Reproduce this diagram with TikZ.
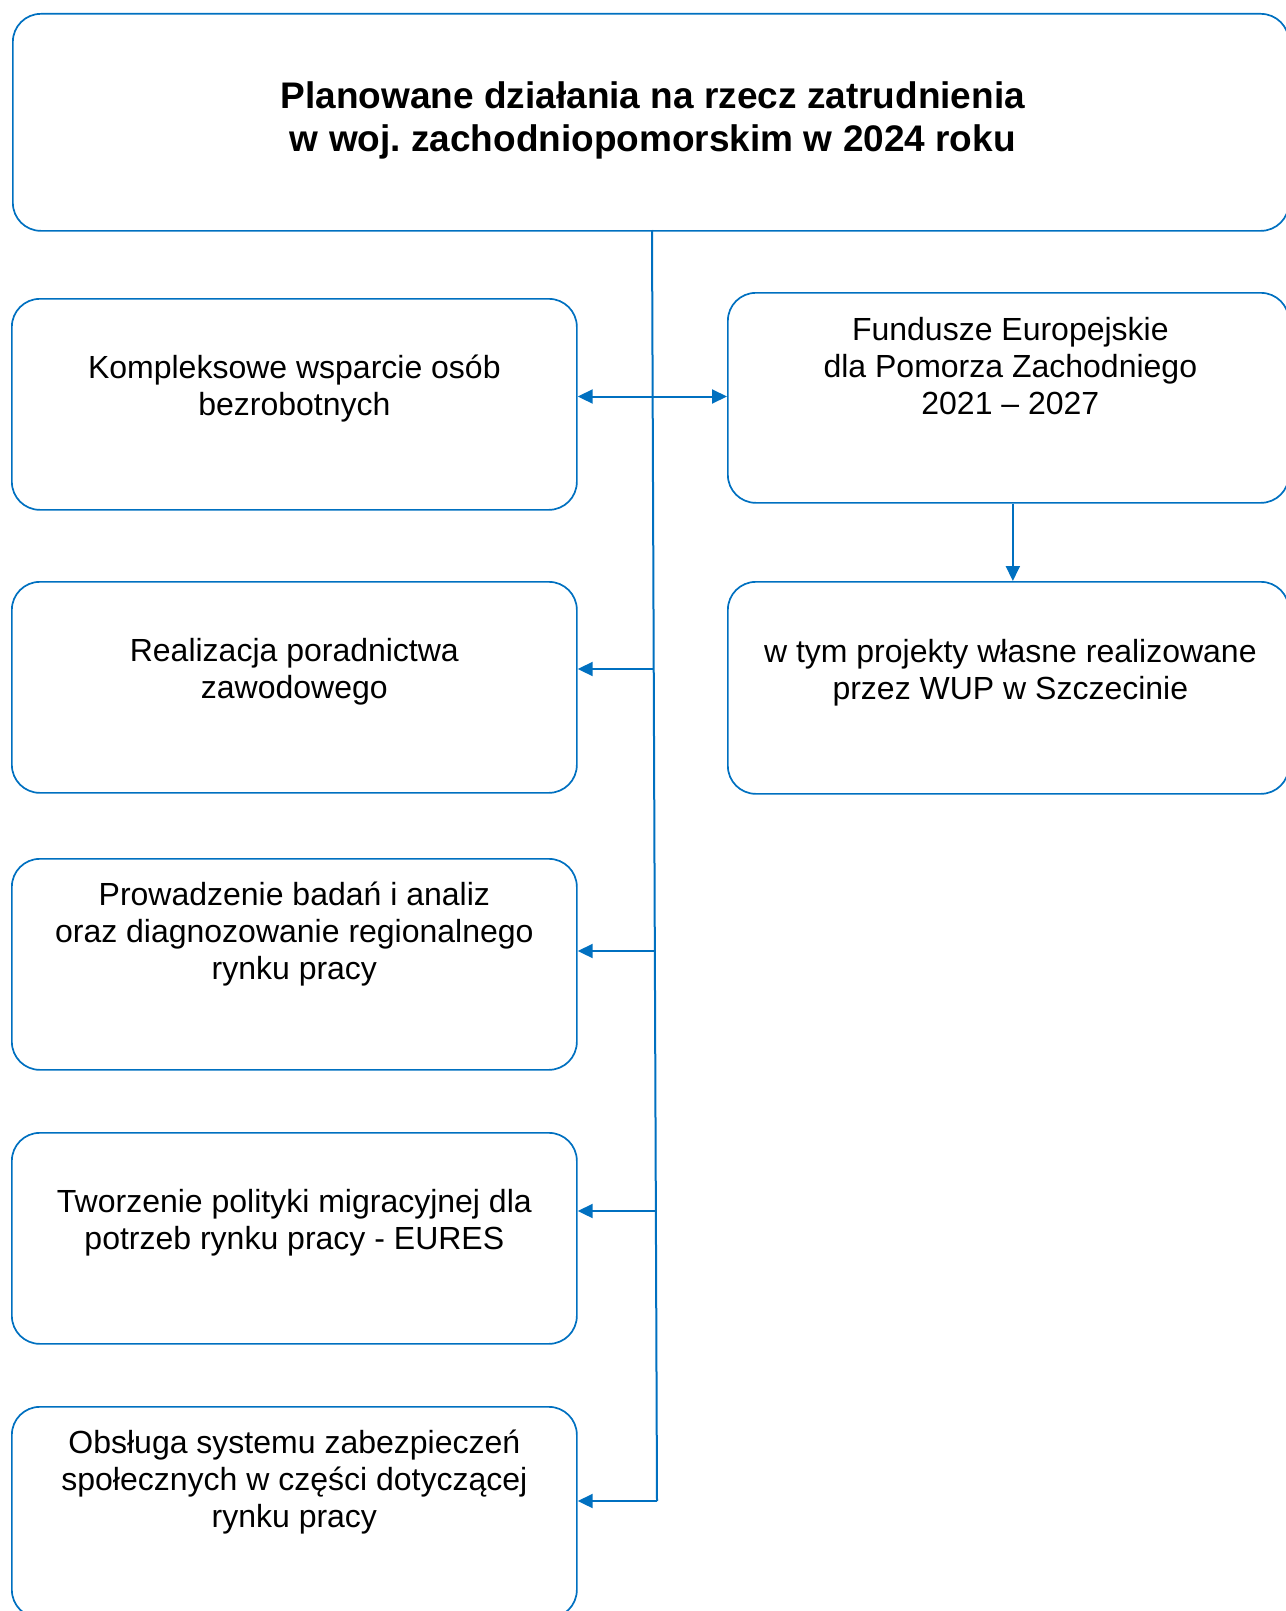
\documentclass[tikz,border=0pt]{standalone}
\usepackage{fontspec}
\setmainfont{Liberation Sans}
\usetikzlibrary{arrows.meta, calc, positioning}
\definecolor{wupblue}{RGB}{0,112,192}
\frenchspacing

\begin{document}
\begin{tikzpicture}[x=1pt, y=-1pt,
  box/.style={draw=wupblue, line width=1.7pt, rounded corners=28pt, minimum width=565pt, minimum height=211pt, inner sep=0pt, anchor=north west},
  txt/.style={font=\fontsize{32}{37}\selectfont, align=center, inner sep=0pt, anchor=north},
  link/.style={wupblue, line width=2pt, -{Triangle[length=15pt,width=14pt]}},
  twolink/.style={wupblue, line width=2pt, {Triangle[length=15pt,width=14pt]}-{Triangle[length=15pt,width=14pt]}}
]
\useasboundingbox (0,0) rectangle (1285,1611);

% Heading
\node[box, minimum width=1276pt, minimum height=217pt] (head) at (12,13) {};
\node[txt, font=\bfseries\fontsize{37}{43}\selectfont] (headtxt) at ([yshift=-68pt,xshift=2pt]head.north)
  {Planowane działania na rzecz zatrudnienia\\w woj. zachodniopomorskim w 2024 roku};

% Left column
\node[box] (kompl) at (11,298) {};
\node[txt] (kompltxt) at ([yshift=-57pt]kompl.north) {Kompleksowe wsparcie osób\\bezrobotnych};

\node[box] (porad) at (11,581) {};
\node[txt] (poradtxt) at ([yshift=-57pt]porad.north) {Realizacja poradnictwa\\zawodowego};

\node[box] (badan) at (11,858) {};
\node[txt] (badantxt) at ([yshift=-24pt]badan.north) {Prowadzenie badań i analiz\\oraz diagnozowanie regionalnego\\rynku pracy};

\node[box] (eures) at (11,1132) {};
\node[txt] (eurestxt) at ([yshift=-57pt]eures.north) {Tworzenie polityki migracyjnej dla\\potrzeb rynku pracy - EURES};

\node[box] (oblsu) at (11,1406) {};
\node[txt] (oblsutxt) at ([yshift=-24pt]oblsu.north) {Obsługa systemu zabezpieczeń\\społecznych w części dotyczącej\\rynku pracy};

% Right column
\node[box, minimum width=561pt, minimum height=210pt] (fepz) at (727,292) {};
\node[txt] (fepztxt) at ([yshift=-25pt,xshift=2pt]fepz.north) {Fundusze Europejskie\\dla Pomorza Zachodniego\\2021 – 2027};

\node[box, minimum width=561pt, minimum height=212pt] (wup) at (727,581) {};
\node[txt] (wuptxt) at ([yshift=-58pt,xshift=2pt]wup.north) {w tym projekty własne realizowane\\przez WUP w Szczecinie};

% Trunk and branches
\coordinate (ttop) at (652,230);
\coordinate (j1) at (653.3,396.5);
\coordinate (j2) at (653.7,669);
\coordinate (j3) at (654.8,951);
\coordinate (j4) at (655.9,1211);
\coordinate (j5) at (657,1501);
\draw[wupblue, line width=2pt] (ttop) -- (j5);

\draw[twolink] (kompl.east |- j1) -- (fepz.west |- j1);
\foreach \j/\b in {j2/porad, j3/badan, j4/eures, j5/oblsu} {
  \draw[link] (\j) -- (\b.east |- \j);
}
\draw[link] ([xshift=4.5pt]fepz.south) -- ([xshift=4.5pt]wup.north);
\end{tikzpicture}
\end{document}
